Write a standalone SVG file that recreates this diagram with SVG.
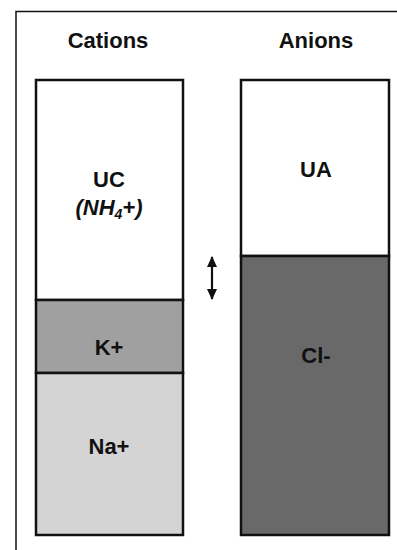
<svg xmlns="http://www.w3.org/2000/svg" width="397" height="550" viewBox="0 0 397 550">
<style>
.t{font-family:"Liberation Sans",Arial,sans-serif;font-weight:bold;fill:#111;text-anchor:middle}
.h{font-size:22px}
.l{font-size:22px}
.b{stroke:#111;stroke-width:2.5}
</style>
<defs>
<marker id="ah" viewBox="0 0 11 10" refX="10" refY="5" markerWidth="11" markerHeight="10" orient="auto-start-reverse" markerUnits="userSpaceOnUse"><path d="M0,0 L11,5 L0,10 Z" fill="#111"/></marker>
</defs>
<rect width="397" height="550" fill="#fff"/>
<path d="M16,551 V11.5 H398" fill="none" stroke="#111" stroke-width="1.5"/>
<text class="t h" x="108" y="48">Cations</text>
<text class="t h" x="316" y="48">Anions</text>
<g id="uc"><rect class="b" x="36" y="80" width="147" height="220" fill="#fff"/>
<text class="t l" x="109" y="187">UC</text>
<text class="t l" x="109" y="215" font-style="italic">(NH<tspan font-size="14" dy="4">4</tspan><tspan dy="-4">+)</tspan></text></g>
<g id="k"><rect class="b" x="36" y="300" width="147" height="73" fill="#a0a0a0"/>
<text class="t l" x="109" y="355">K+</text></g>
<g id="na"><rect class="b" x="36" y="373" width="147" height="162" fill="#d4d4d4"/>
<text class="t l" x="109" y="454">Na+</text></g>
<g id="ua"><rect class="b" x="241" y="80" width="148" height="176" fill="#fff"/>
<text class="t l" x="316" y="177">UA</text></g>
<g id="cl"><rect class="b" x="241" y="256" width="148" height="279" fill="#696969"/>
<text class="t l" x="316" y="363">Cl-</text></g>
<g id="connectors"><line x1="212" y1="257" x2="212" y2="299" stroke="#111" stroke-width="2.2" marker-start="url(#ah)" marker-end="url(#ah)"/></g>
</svg>
